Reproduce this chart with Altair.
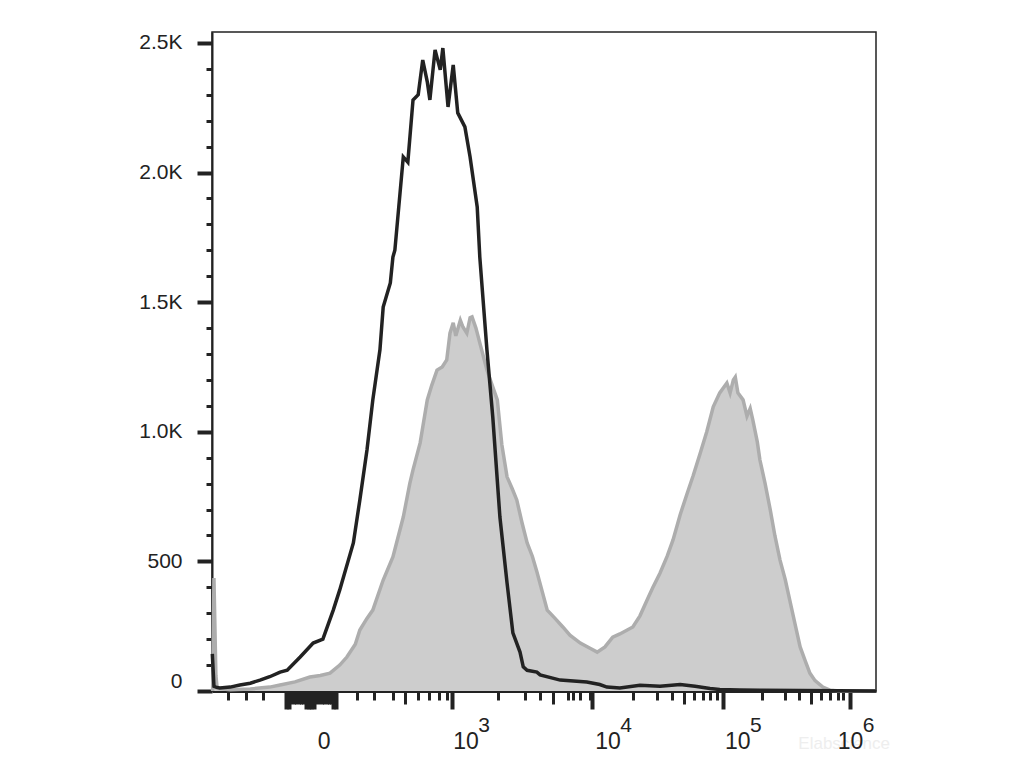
import altair as alt
import pandas as pd

# x is the display channel (0-1024 across the plot), y is the event count
BLK_CH = [0.5, 3, 6, 12, 28, 43, 59, 74, 89, 105, 116, 136, 156, 171, 187, 197, 218, 228, 239, 248,
          259, 264, 275, 279, 282, 295, 302, 310, 318, 325, 332, 336, 344, 352, 356, 364, 372, 379,
          390, 398, 409, 413, 424, 433, 444, 455, 464, 475, 480, 486, 501, 506, 537, 578, 598, 609,
          629, 660, 691, 722, 745, 768, 783, 814, 845, 907, 1024]
BLK_CNT = [143, 18, 15, 12, 15, 23, 30, 42, 55, 73, 80, 131, 185, 200, 312, 390, 571, 737, 930, 1123,
           1316, 1481, 1574, 1674, 1700, 2060, 2040, 2280, 2300, 2434, 2350, 2280, 2473, 2396, 2480, 2253, 2415, 2230,
           2176, 2060, 1867, 1674, 1316, 1057, 671, 417, 224, 150, 93, 80, 73, 62, 42, 35, 25, 15,
           12, 22, 18, 25, 18, 10, 6, 4, 3, 2, 0]

GRY_CH = [1, 3, 6, 8, 28, 59, 89, 105, 128, 151, 167, 182, 197, 208, 221, 228, 239, 248, 264, 279,
          295, 305, 310, 321, 332, 339, 347, 355, 362, 367, 372, 376, 383, 387, 393, 398, 401, 407,
          413, 424, 432, 440, 447, 455, 463, 470, 478, 486, 494, 501, 517, 529, 541, 552, 568, 583,
          594, 606, 618, 629, 649, 660, 671, 680, 691, 702, 711, 722, 733, 742, 753, 763, 773, 783,
          794, 799, 804, 807, 811, 819, 825, 830, 834, 841, 845, 853, 861, 868, 876, 884, 891, 899,
          907, 915, 922, 930, 942, 953, 969, 1024]
GRY_CNT = [0, 436, 60, 10, 5, 8, 15, 23, 35, 54, 60, 69, 100, 131, 180, 235, 280, 312, 428, 517,
           671, 800, 853, 957, 1123, 1180, 1238, 1250, 1277, 1380, 1420, 1370, 1430, 1404, 1380, 1440, 1443, 1400,
           1343, 1238, 1180, 1123, 950, 826, 780, 737, 650, 571, 520, 460, 312, 280, 247, 215, 185, 165,
           150, 170, 208, 220, 247, 290, 351, 400, 455, 520, 583, 680, 764, 830, 918, 1000, 1096, 1150,
           1188, 1150, 1200, 1211, 1150, 1123, 1060, 1090, 1046, 960, 891, 800, 698, 600, 505, 430, 351, 260,
           170, 115, 69, 40, 15, 3, 0, 0]

# x-axis tick positions (display channel)
X_TICK_LONG = [114, 118, 145, 149, 153, 157, 187, 191, 370, 586, 788, 984]
X_TICK_MEDIUM = [122, 126, 130, 134, 138, 141, 161, 165, 169, 173, 177, 181, 184, 298, 526, 728, 924]
X_TICK_SHORT = [25, 52, 79, 224, 250, 279, 318, 335, 350, 362, 441, 483, 506, 549, 557, 568, 583,
                649, 686, 709, 743, 757, 768, 779, 848, 884, 905, 939, 953, 965, 973]

# x-axis labels
LABEL_POS = [163, 372, 591, 791, 965]
LABEL_BASE = ["0", "10", "10", "10", "10"]
LABEL_EXP = ["", "3", "4", "5", "6"]

# y-axis ticks
Y_MAJOR = [0, 500, 1000, 1500, 2000, 2500]
Y_MINOR = [v for v in range(100, 2600, 100) if v % 500 != 0]

FONT = "Liberation Sans"
INK = "#222222"
W, H = 664, 659

blk = pd.DataFrame({"ch": BLK_CH, "count": BLK_CNT})
gry = pd.DataFrame({"ch": GRY_CH, "count": GRY_CNT})
labels = pd.DataFrame({"pos": LABEL_POS, "base": LABEL_BASE, "exp": LABEL_EXP})

xscale = alt.Scale(domain=[0, 1024], nice=False, zero=False)
yscale = alt.Scale(domain=[0, 2542], nice=False, zero=True)

area = alt.Chart(gry).mark_area(color="#cdcdcd", interpolate="linear").encode(
    x=alt.X("ch:Q", scale=xscale, title=None,
            axis=alt.Axis(orient="bottom", values=X_TICK_SHORT, labels=False, domain=False,
                          grid=False, ticks=True, tickSize=9, tickWidth=3, tickColor=INK)),
    y=alt.Y("count:Q", scale=yscale, title=None,
            axis=alt.Axis(orient="left", values=Y_MINOR, labels=False, domain=False, grid=False,
                          tickSize=6, tickWidth=3, tickColor=INK)),
)

outline = alt.Chart(gry).mark_line(color="#adadad", strokeWidth=3.5, interpolate="linear").encode(
    x=alt.X("ch:Q", scale=xscale, axis=None),
    y=alt.Y("count:Q", scale=yscale, axis=None),
)

black = alt.Chart(blk).mark_line(color=INK, strokeWidth=3.5, interpolate="linear").encode(
    x=alt.X("ch:Q", scale=xscale, title=None,
            axis=alt.Axis(orient="bottom", values=X_TICK_LONG, labels=False, domain=True,
                          domainColor=INK, domainWidth=3, grid=False, tickSize=18, tickWidth=4,
                          tickColor=INK)),
    y=alt.Y("count:Q", scale=yscale, title=None,
            axis=alt.Axis(orient="left", values=Y_MAJOR, domain=True, domainColor=INK, domainWidth=2,
                          grid=False, tickSize=15, tickWidth=4, tickColor=INK,
                          labelFont=FONT, labelFontSize=21, labelColor=INK, labelPadding=15,
                          labelFlush=True,
                          labelExpr="datum.value == 0 ? '0' : datum.value < 1000 ? format(datum.value, 'd') : format(datum.value / 1000, '.1f') + 'K'")),
)

base_text = alt.Chart(labels).mark_text(
    align="left", baseline="alphabetic", font=FONT, fontSize=23, color=INK
).encode(
    x=alt.X("pos:Q", scale=xscale, title=None,
            axis=alt.Axis(orient="bottom", values=X_TICK_MEDIUM, labels=False, domain=False,
                          grid=False, tickSize=13, tickWidth=3, tickColor=INK)),
    y=alt.value(H + 58),
    text="base:N",
)

exp_text = alt.Chart(labels).mark_text(
    align="left", baseline="alphabetic", font=FONT, fontSize=21, color=INK, dx=25
).encode(
    x=alt.X("pos:Q", scale=xscale, axis=None),
    y=alt.value(H + 41),
    text="exp:N",
)

watermark = alt.Chart(pd.DataFrame({"t": ["Elabscience"]})).mark_text(
    align="right", baseline="alphabetic", font=FONT, fontSize=17, color="#eeeeee"
).encode(
    x=alt.value(W + 14),
    y=alt.value(H + 58),
    text="t:N",
)

chart = alt.layer(watermark, area, outline, black, base_text, exp_text).resolve_scale(
    x="shared", y="shared"
).resolve_axis(
    x="independent", y="independent"
).properties(
    width=W, height=H,
    autosize=alt.AutoSizeParams(type="none"),
    padding={"left": 204, "top": 24, "right": 140, "bottom": 74},
    background="white",
).configure_view(
    stroke=INK, strokeWidth=1.5
)

chart.save("out.html", embed_options={"renderer": "svg", "actions": False})
